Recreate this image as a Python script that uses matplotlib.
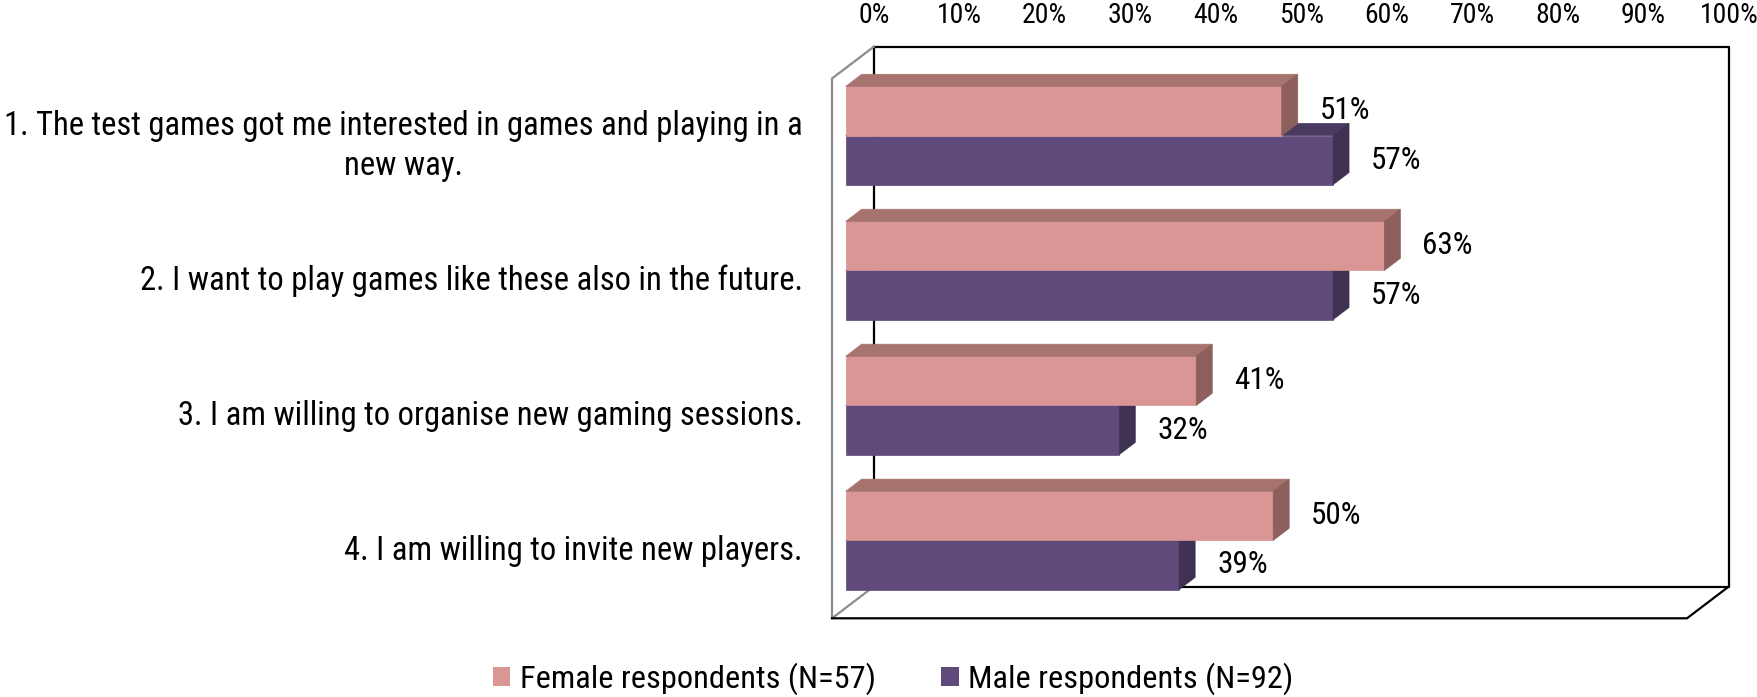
import numpy as np
import matplotlib.pyplot as plt
from matplotlib import font_manager
from matplotlib.font_manager import FontProperties
from matplotlib.patches import Polygon, Patch


def has_font(name):
    try:
        font_manager.findfont(FontProperties(family=name), fallback_to_default=False)
        return True
    except ValueError:
        return False


# narrow face if we have one, Lato otherwise (sizes tuned per face)
if has_font("Roboto Condensed"):
    FONT = "Roboto Condensed"
    SIZES = dict(cat=23.5, value=22.5, tick=20, legend=23.3)
else:
    FONT = "Lato"
    SIZES = dict(cat=20.5, value=19, tick=17, legend=20)
plt.rcParams["font.family"] = [FONT, "DejaVu Sans"]

categories = [
    "1. The test games got me interested in games and playing in a\nnew way.",
    "2. I want to play games like these also in the future.",
    "3. I am willing to organise new gaming sessions.",
    "4. I am willing to invite new players.",
]
female = [51, 63, 41, 50]
male = [57, 57, 32, 39]
series_names = ["Female respondents (N=57)", "Male respondents (N=92)"]
x_ticks = list(range(0, 101, 10))

# face colours: front, top, side
FEMALE_COLORS = ("#D99694", "#A6736F", "#8D5F5D")
MALE_COLORS = ("#604A7B", "#4A3A61", "#3F3152")

DX, DY = 4.89, -0.2356   # wall depth in axis units (x in %, y in categories)
Z0, Z1 = 0.328, 0.71     # front/back of the bar slab, as part of the wall depth
BAR_H = 0.364
LABEL_GAP = 7.4
CAT_GAP = 3.4

fig = plt.figure(figsize=(17.58, 6.97), dpi=100)
ax = fig.add_axes([832 / 1758, 78.7 / 697, 855 / 1758, 539.8 / 697])
ax.set_xlim(0, 100)
ax.set_ylim(3.5, -0.5)
ax.axis("off")

# --- walls and floor ---
BLACK, GREY = "#000000", "#8C8C8C"
lw = 1.6
ax.plot([DX, DX + 100, DX + 100, DX, DX],
        [-0.5 + DY, -0.5 + DY, 3.5 + DY, 3.5 + DY, -0.5 + DY],
        color=BLACK, lw=lw, clip_on=False, zorder=1)
ax.plot([DX, 0, 0, DX], [-0.5 + DY, -0.5, 3.5, 3.5 + DY],
        color=GREY, lw=lw, clip_on=False, zorder=1)
ax.plot([0, 100, 100 + DX], [3.5, 3.5, 3.5 + DY],
        color=BLACK, lw=lw, clip_on=False, zorder=1)


def face(pts, color):
    ax.add_patch(Polygon(pts, closed=True, facecolor=color, edgecolor=color,
                         lw=0.5, zorder=2, clip_on=False))


def bar3d(y_top, value, colors):
    front, top, side = colors
    y_bot = y_top + BAR_H
    x0, y0 = Z0 * DX, Z0 * DY
    x1, y1 = Z1 * DX, Z1 * DY
    face([(x0, y_top + y0), (value + x0, y_top + y0),
          (value + x0, y_bot + y0), (x0, y_bot + y0)], front)
    face([(x0, y_top + y0), (value + x0, y_top + y0),
          (value + x1, y_top + y1), (x1, y_top + y1)], top)
    face([(value + x0, y_top + y0), (value + x1, y_top + y1),
          (value + x1, y_bot + y1), (value + x0, y_bot + y0)], side)
    ax.text(value + x0 + LABEL_GAP, y_top + BAR_H / 2 + y0, f"{value}%",
            ha="center", va="center", fontsize=SIZES["value"])


for i, (f, m) in enumerate(zip(female, male)):
    bar3d(i, m, MALE_COLORS)          # lower bar first, female covers its top
    bar3d(i - BAR_H, f, FEMALE_COLORS)
    ax.text(-CAT_GAP, i, categories[i], ha="right", va="center",
            multialignment="center", fontsize=SIZES["cat"], linespacing=1.3)

for t in x_ticks:
    ax.text(t + DX, -0.5 + DY - 0.228, f"{t}%", ha="center", va="center",
            fontsize=SIZES["tick"])

handles = [Patch(facecolor=FEMALE_COLORS[0]), Patch(facecolor=MALE_COLORS[0])]
fig.legend(handles, series_names, loc="center",
           bbox_to_anchor=(893 / 1758, 18 / 697), ncol=2, frameon=False,
           fontsize=SIZES["legend"], handlelength=0.55, handleheight=0.55,
           handletextpad=0.3, columnspacing=2.0)

fig.savefig("out.png", dpi=100)
